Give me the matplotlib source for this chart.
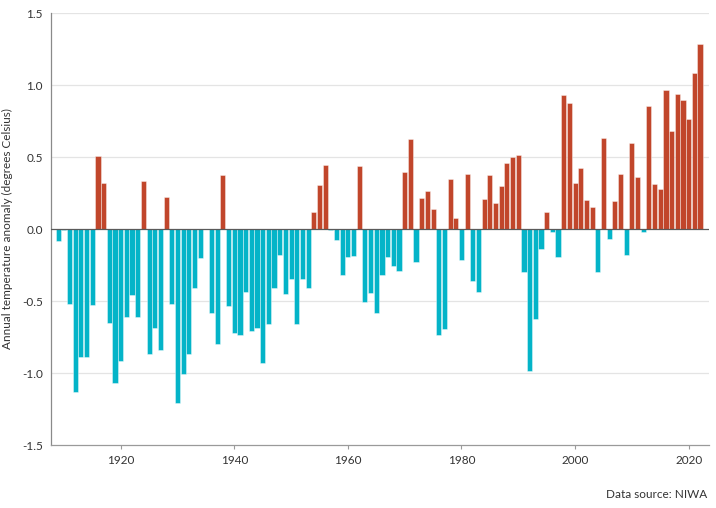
import matplotlib
matplotlib.use("Agg")
import matplotlib.pyplot as plt
import numpy as np

plt.rcParams['font.family'] = ['Lato', 'DejaVu Sans']

years = list(range(1909, 2023))
anomaly = [
    -0.08, -0.01, -0.52, -1.13, -0.89, -0.89, -0.53, 0.51, 0.32, -0.65,   # 1909-1918
    -1.07, -0.92, -0.61, -0.46, -0.61, 0.33, -0.87, -0.69, -0.84, 0.225,  # 1919-1928
    -0.52, -1.21, -1.01, -0.87, -0.41, -0.20, 0.0, -0.585, -0.80, 0.376,  # 1929-1938
    -0.537, -0.72, -0.736, -0.436, -0.71, -0.686, -0.93, -0.66, -0.41, -0.18,  # 1939-1948
    -0.45, -0.35, -0.66, -0.35, -0.41, 0.12, 0.305, 0.445, -0.01, -0.078,  # 1949-1958
    -0.317, -0.197, -0.188, 0.436, -0.505, -0.445, -0.583, -0.317, -0.197, -0.257,  # 1959-1968
    -0.289, 0.397, 0.624, -0.229, 0.218, 0.266, 0.138, -0.734, -0.695, 0.346,  # 1969-1978
    0.076, -0.218, 0.385, -0.358, -0.436, 0.206, 0.374, 0.179, 0.298, 0.456,  # 1979-1988
    0.498, 0.516, -0.298, -0.984, -0.624, -0.138, 0.117, -0.02, -0.197, 0.931,  # 1989-1998
    0.874, 0.317, 0.427, 0.20, 0.151, -0.298, 0.635, -0.069, 0.197, 0.385,  # 1999-2008
    -0.18, 0.594, 0.358, -0.018, 0.851, 0.315, 0.276, 0.966, 0.678, 0.936,  # 2009-2018
    0.897, 0.767, 1.085, 1.286,  # 2019-2022
]
xticks = [1920, 1940, 1960, 1980, 2000, 2020]
yticks = [-1.5, -1.0, -0.5, 0.0, 0.5, 1.0, 1.5]

pos_color = '#C1462B'
neg_color = '#04B4C8'

fig = plt.figure(figsize=(7.16, 5.08), dpi=100)
ax = fig.add_axes([51/716, 1-445/508, (709-51)/716, (445-13)/508])

colors = [pos_color if v >= 0 else neg_color for v in anomaly]
ax.bar(years, anomaly, width=0.9, color=colors, edgecolor=(1, 1, 1, 0.45),
       linewidth=0.6, zorder=3)

ax.set_xlim(1907.73, 2023.58)
ax.set_ylim(-1.5, 1.5)
ax.set_yticks(yticks)
ax.set_yticklabels([f"{t:.1f}" for t in yticks])
ax.set_xticks(xticks)
ax.set_xticklabels([str(t) for t in xticks])

for t in yticks:
    if t == 0 or t == -1.5:
        continue
    ax.axhline(t, color='#e4e4e4', lw=0.9, zorder=1)
ax.axhline(0, color='#5a5a5a', lw=0.9, zorder=4)

for s in ['top', 'right']:
    ax.spines[s].set_visible(False)
ax.spines['left'].set_color('#8a8a8a')
ax.spines['bottom'].set_color('#9a9a9a')
ax.spines['left'].set_linewidth(0.9)
ax.spines['bottom'].set_linewidth(0.9)

ax.tick_params(axis='y', length=0, pad=6, labelsize=8.5, labelcolor='#333333')
ax.tick_params(axis='x', length=3, color='#9a9a9a', pad=4, labelsize=8.5,
               labelcolor='#333333')

ax.set_ylabel('Annual temperature anomaly (degrees Celsius)', fontsize=8.5,
              color='#333333', labelpad=6)
fig.text(707/716, 1-494/508, 'Data source: NIWA', ha='right', va='center',
         fontsize=8.5, color='#333333')

fig.savefig('out.png', dpi=100)
